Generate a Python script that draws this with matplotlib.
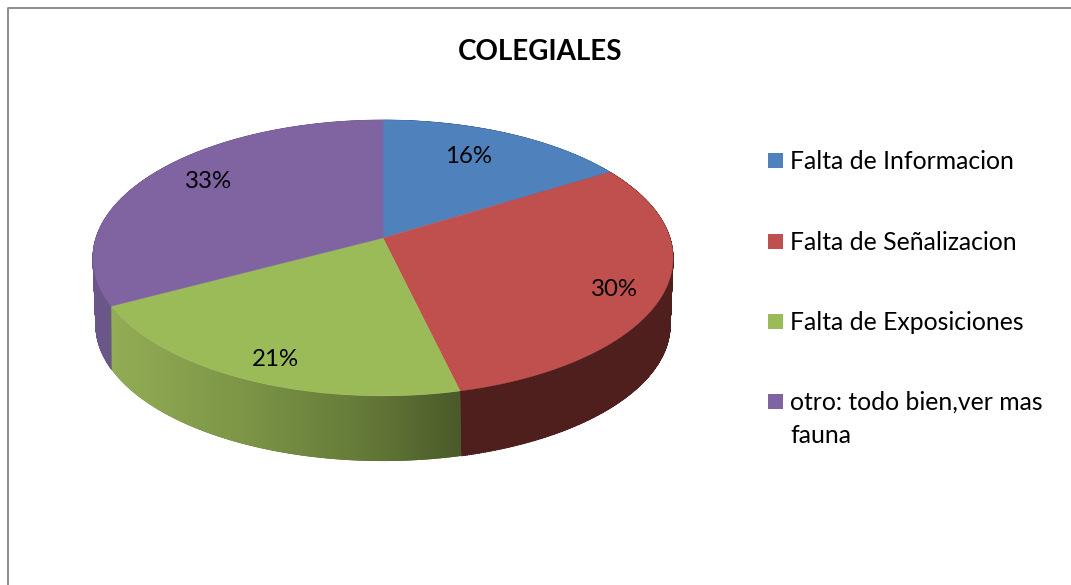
import numpy as np
import matplotlib
matplotlib.use("Agg")
import matplotlib.pyplot as plt
from matplotlib.patches import Polygon, Rectangle, PathPatch
from matplotlib.path import Path
from matplotlib.colors import to_rgb

title = "COLEGIALES"
categories = ["Falta de Informacion", "Falta de Señalizacion", "Falta de Exposiciones", "otro: todo bien,ver mas\nfauna"]
values = [16.2, 30.1, 20.9, 32.8]
percent_labels = ["16%", "30%", "21%", "33%"]
top_colors = ["#4f81bd", "#c0504d", "#9bbb59", "#8064a2"]
wall_colors = ["#385d8a", "#4f1f1d", "#9bbb59", "#6b5689"]
label_radius = [0.72, 0.83, 0.62, 0.74]
label_shift = [(-7, -4), (1, 7), (-28, 38), (-2, -8)]

W, H = 1071, 585
plt.rcParams['font.family'] = ['Lato', 'DejaVu Sans']
fig = plt.figure(figsize=(W/100, H/100), dpi=100)
ax = fig.add_axes([0, 0, 1, 1])
ax.axis('off')

# border (left and top only, runs off the right edge)
ax.plot([7.5, 7.5, W], [H, 7.5, 7.5], color='#8c8c8c', lw=1.4, solid_capstyle='butt')

def top_rim(theta):
    x, y = np.sin(theta), np.cos(theta)
    w = 1 + 0.145*y
    return 383 + 287*x/w, 238 - 135*y/w

def bottom_rim(theta):
    x, y = np.sin(theta), np.cos(theta)
    w = 1 + 0.17*y
    return 383 + 283*x/w, 302 - 132*y/w

def wall_path(a, b, n=300):
    """One path made of many quads, all wound the same way, so no seams show."""
    ths = np.linspace(a, b, n)
    xt, yt = top_rim(ths)
    xb, yb = bottom_rim(ths)
    verts, codes = [], []
    for j in range(n-1):
        q = [(xt[j], yt[j]), (xt[j+1], yt[j+1]), (xb[j+1], yb[j+1]), (xb[j], yb[j])]
        qa = np.array(q)
        area = np.sum(qa[:, 0]*np.roll(qa[:, 1], -1) - np.roll(qa[:, 0], -1)*qa[:, 1])
        if area < 0:
            q = q[::-1]
        verts += q + [q[0]]
        codes += [Path.MOVETO, Path.LINETO, Path.LINETO, Path.LINETO, Path.CLOSEPOLY]
    return Path(verts, codes)

fractions = np.array(values)/np.sum(values)
edges = np.concatenate([[0], np.cumsum(fractions)])*2*np.pi

# side walls
grad_x = [110, 250, 380, 460]
grad_c = [to_rgb(c) for c in ['#93ad55', '#7b9446', '#617636', '#4a5a2a']]
for i in [0, 3, 1, 2]:
    path = wall_path(edges[i], edges[i+1])
    if i == 2:
        patch = PathPatch(path, facecolor=grad_c[-1], edgecolor='none', zorder=2)
        ax.add_patch(patch)
        cols = np.linspace(100, 470, 370)
        img = np.stack([np.interp(cols, grad_x, [c[k] for c in grad_c]) for k in range(3)], axis=-1)[None, :, :]
        im = ax.imshow(img, extent=(100, 470, 480, 280), aspect='auto', zorder=2, interpolation='bilinear')
        im.set_clip_path(patch)
    else:
        ax.add_patch(PathPatch(path, facecolor=wall_colors[i], edgecolor=wall_colors[i], lw=0.6, zorder=2))

# top faces
for i in range(4):
    ths = np.linspace(edges[i], edges[i+1], 200)
    xs, ys = top_rim(ths)
    pts = np.column_stack([np.r_[383, xs], np.r_[238, ys]])
    ax.add_patch(Polygon(pts, closed=True, facecolor=top_colors[i], edgecolor=top_colors[i],
                         lw=0.3, zorder=3))

# percent labels
for i in range(4):
    mid = (edges[i] + edges[i+1])/2
    r = label_radius[i]
    x, y = np.sin(mid)*r, np.cos(mid)*r
    w = 1 + 0.145*y
    px = 383 + 287*x/w + label_shift[i][0]
    py = 238 - 135*y/w + label_shift[i][1]
    ax.text(px, py, percent_labels[i], ha='center', va='center', fontsize=17.3, color='black', zorder=5)

ax.text(540, 52, title, ha='center', va='center', fontsize=20, fontweight='bold', color='black')

# legend
legend_y = [160, 241, 321, 401]
for c, col, ly in zip(categories, top_colors, legend_y):
    ax.add_patch(Rectangle((768, ly-7.5), 15, 15, facecolor=col, edgecolor='none'))
    ax.text(790, ly-10, c, ha='left', va='top', fontsize=17.8, color='black', linespacing=1.55)

ax.set_xlim(0, W); ax.set_ylim(H, 0)
fig.savefig('out.png', dpi=100)
